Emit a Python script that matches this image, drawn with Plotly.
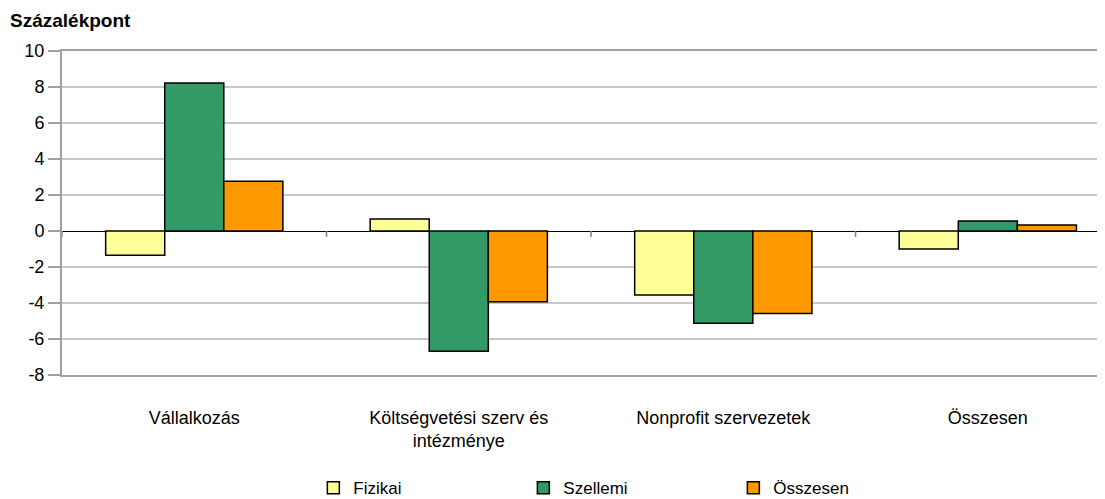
import plotly.graph_objects as go

categories = ["Vállalkozás", "Költségvetési szerv és<br>intézménye", "Nonprofit szervezetek", "Összesen"]
fizikai = [-1.35, 0.67, -3.56, -1.0]
szellemi = [8.22, -6.68, -5.12, 0.55]
osszesen = [2.77, -3.93, -4.58, 0.33]
y_ticks = [10, 8, 6, 4, 2, 0, -2, -4, -6, -8]

series = [("Fizikai", fizikai, "#FFFF99"),
          ("Szellemi", szellemi, "#339966"),
          ("Összesen", osszesen, "#FF9900")]

font_family = "Liberation Sans, Arial"

fig = go.Figure()
for name, vals, col in series:
    fig.add_trace(go.Bar(x=list(range(len(categories))), y=vals, name=name,
                         marker=dict(color=col, line=dict(color="black", width=1.5))))

# small tick marks on the zero line between categories
shapes = []
for i in range(len(categories) + 1):
    shapes.append(dict(type="line", xref="x", yref="y", ysizemode="pixel", yanchor=0,
                       x0=i - 0.5, x1=i - 0.5, y0=0, y1=-6,
                       line=dict(color="#808080", width=1.5)))

# page body adds an 8px offset, margins are reduced to compensate
fig.update_layout(
    width=1097, height=499,
    margin=dict(l=54, r=0, t=43, b=132, autoexpand=False),
    plot_bgcolor="white", paper_bgcolor="white",
    barmode="group", bargap=0.33, bargroupgap=0,
    font=dict(family=font_family, size=17, color="black"),
    showlegend=True,
    legend=dict(orientation="h", x=0.241, xanchor="left", y=-0.405, yanchor="bottom",
                entrywidth=165, font=dict(size=17), traceorder="normal"),
    shapes=shapes,
    annotations=[dict(text="<b>Százalékpont</b>", xref="paper", yref="paper",
                      x=-54 / 1043, y=1 + 31 / 324, xanchor="left", yanchor="middle",
                      showarrow=False, font=dict(size=19))],
)
fig.update_xaxes(range=[-0.5, 3.443], tickvals=list(range(len(categories))), ticktext=categories,
                 showgrid=False, showline=True, mirror=True, linecolor="#A0A0A0", linewidth=2,
                 ticks="", ticklabelstandoff=25,
                 tickfont=dict(size=18), automargin=False)
fig.update_yaxes(range=[-8, 10], tickvals=y_ticks, ticktext=[str(v) for v in y_ticks],
                 showgrid=True, gridcolor="#C8C8C8", gridwidth=1.5,
                 zeroline=True, zerolinecolor="black", zerolinewidth=1,
                 showline=True, linecolor="#A0A0A0", linewidth=2,
                 ticks="outside", ticklen=12, tickcolor="#A0A0A0", tickwidth=1.5,
                 tickfont=dict(size=18), automargin=False)

fig.write_html("out.html")
